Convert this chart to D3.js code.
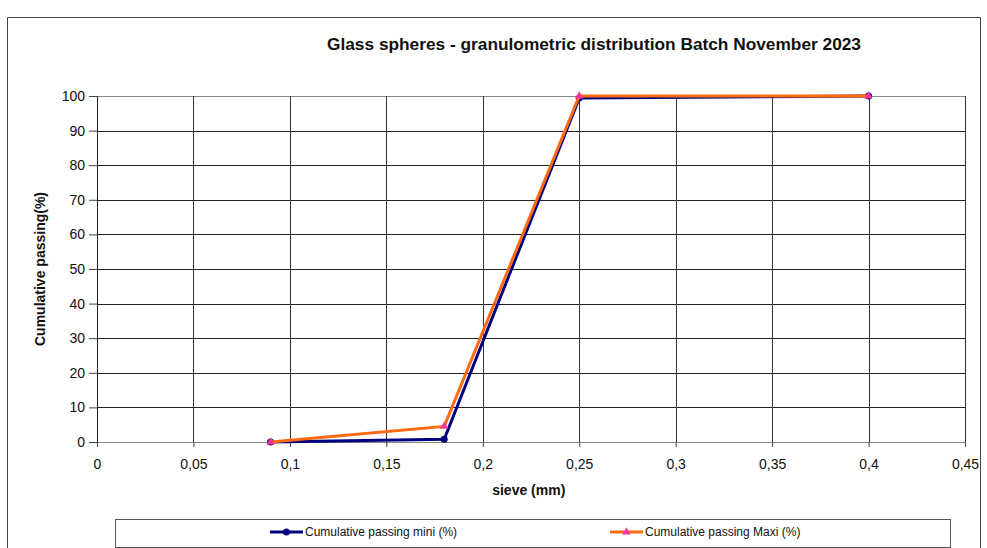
<!DOCTYPE html>
<html>
<head>
<meta charset="utf-8">
<script src="https://cdn.jsdelivr.net/npm/d3@7"></script>
<style>
  body { margin: 0; background: #fff; }
  svg { font-family: "Liberation Sans", Arial, sans-serif; }
</style>
</head>
<body>
<div id="chart"></div>
<script>
// sieve sizes (mm) and cumulative passing (%)
const sieve = [0.09, 0.18, 0.25, 0.4];
const passMini = [0, 0.8, 99.4, 100];
const passMaxi = [0, 4.5, 100, 100];
const xTicks = [0, 0.05, 0.1, 0.15, 0.2, 0.25, 0.3, 0.35, 0.4, 0.45];
const yTicks = [0, 10, 20, 30, 40, 50, 60, 70, 80, 90, 100];
const seriesNames = ["Cumulative passing mini (%)", "Cumulative passing Maxi (%)"];

const W = 987, H = 548;
const margin = { top: 96, right: 22, bottom: 106, left: 97 };
const width = W - margin.left - margin.right;
const height = H - margin.top - margin.bottom;

const root = d3.select("#chart").append("svg")
    .attr("width", W)
    .attr("height", H);

// outer frame
root.append("path")
    .attr("d", `M7.5,${H} V17.5 H980.5 V${H}`)
    .attr("fill", "none")
    .attr("stroke", "#444")
    .attr("stroke-width", 1);

root.append("text")
    .attr("x", 594)
    .attr("y", 50)
    .attr("text-anchor", "middle")
    .attr("font-weight", "bold")
    .attr("font-size", 17.3)
    .attr("fill", "#111")
    .text("Glass spheres - granulometric distribution Batch November 2023");

const svg = root.append("g")
    .attr("transform", `translate(${margin.left},${margin.top})`);

const x = d3.scaleLinear().domain([0, 0.45]).range([0, width]);
const y = d3.scaleLinear().domain([0, 100]).range([height, 0]);
const fmt = d => String(+d.toFixed(2)).replace(".", ",");

// grid
svg.append("g")
    .selectAll("line")
    .data(yTicks)
    .enter().append("line")
        .attr("x1", 0).attr("x2", width)
        .attr("y1", d => Math.round(y(d)) + 0.5)
        .attr("y2", d => Math.round(y(d)) + 0.5)
        .attr("stroke", d => (d === 0 || d === 100) ? "#888" : "#222");

svg.append("g")
    .selectAll("line")
    .data(xTicks.slice(1))
    .enter().append("line")
        .attr("x1", d => Math.round(x(d)) + 0.5)
        .attr("x2", d => Math.round(x(d)) + 0.5)
        .attr("y1", 0).attr("y2", height)
        .attr("stroke", "#333");

// axes
svg.append("g")
    .attr("transform", `translate(0,${height})`)
    .call(d3.axisBottom(x).tickValues(xTicks).tickFormat(fmt).tickSize(5).tickPadding(12))
    .call(g => g.select(".domain").attr("stroke", "#888"))
    .call(g => g.selectAll("line").attr("stroke", "#444"))
    .call(g => g.selectAll("text").attr("font-size", 14).attr("fill", "#111")
        .attr("font-family", "Liberation Sans, Arial, sans-serif"));

svg.append("g")
    .call(d3.axisLeft(y).tickValues(yTicks).tickSize(8).tickPadding(4))
    .call(g => g.select(".domain").attr("stroke", "#222"))
    .call(g => g.selectAll("line").attr("stroke", "#444"))
    .call(g => g.selectAll("text").attr("font-size", 14).attr("fill", "#111")
        .attr("font-family", "Liberation Sans, Arial, sans-serif"));

// axis titles
svg.append("text")
    .attr("x", x(0.2) + 46)
    .attr("y", height + 53)
    .attr("text-anchor", "middle")
    .attr("font-weight", "bold")
    .attr("font-size", 14)
    .attr("fill", "#111")
    .text("sieve (mm)");

svg.append("text")
    .attr("transform", `translate(${-52},${height / 2}) rotate(-90)`)
    .attr("text-anchor", "middle")
    .attr("font-weight", "bold")
    .attr("font-size", 14)
    .attr("fill", "#111")
    .text("Cumulative passing(%)");

// series
const line = d3.line().x(d => x(d[0])).y(d => y(d[1]));
const miniPts = sieve.map((s, i) => [s, passMini[i]]);
const maxiPts = sieve.map((s, i) => [s, passMaxi[i]]);

svg.append("path")
    .datum(miniPts)
    .attr("d", line)
    .attr("fill", "none")
    .attr("stroke", "#000080")
    .attr("stroke-width", 3);

svg.selectAll(".mini")
    .data(miniPts)
    .enter().append("circle")
        .attr("class", "mini")
        .attr("cx", d => x(d[0]))
        .attr("cy", d => y(d[1]))
        .attr("r", 3.5)
        .attr("fill", "#000080");

svg.append("path")
    .datum(maxiPts)
    .attr("d", line)
    .attr("fill", "none")
    .attr("stroke", "#ff6a13")
    .attr("stroke-width", 3);

const tri = d3.symbol().type(d3.symbolTriangle).size(30);
svg.selectAll(".maxi")
    .data(maxiPts)
    .enter().append("path")
        .attr("class", "maxi")
        .attr("d", tri)
        .attr("transform", d => `translate(${x(d[0])},${y(d[1])})`)
        .attr("fill", "#ff3399");

// legend
const lg = root.append("g");
lg.append("rect")
    .attr("x", 115.5).attr("y", 519.5)
    .attr("width", 835).attr("height", 28)
    .attr("fill", "#fff")
    .attr("stroke", "#555");

const legendItems = [
    { name: seriesNames[0], x: 270, color: "#000080", mark: "circle" },
    { name: seriesNames[1], x: 610, color: "#ff6a13", mark: "tri" }
];
legendItems.forEach(it => {
    const g = lg.append("g").attr("transform", `translate(${it.x},532)`);
    g.append("line").attr("x1", 0).attr("x2", 33)
        .attr("stroke", it.color).attr("stroke-width", 3);
    if (it.mark === "circle") {
        g.append("circle").attr("cx", 16.5).attr("r", 3.5).attr("fill", it.color);
    } else {
        g.append("path").attr("d", tri).attr("transform", "translate(16.5,0)").attr("fill", "#ff3399");
    }
    g.append("text")
        .attr("x", 35)
        .attr("y", 4)
        .attr("font-size", 12)
        .attr("font-family", "'Liberation Sans Narrow', 'Arial Narrow', sans-serif")
        .attr("fill", "#111")
        .text(it.name);
});
</script>
</body>
</html>
